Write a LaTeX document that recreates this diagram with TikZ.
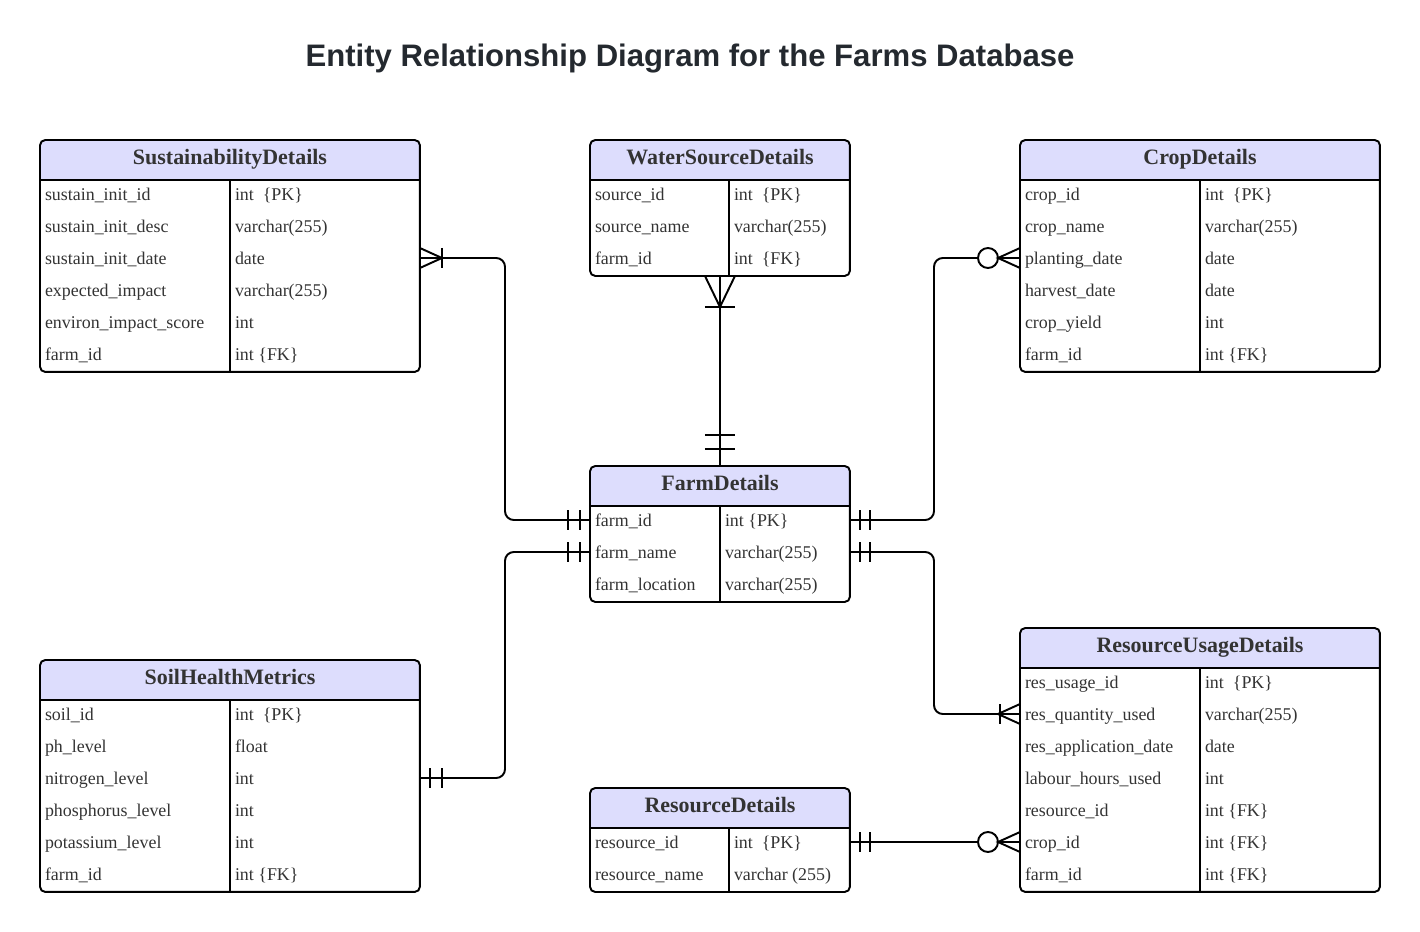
\documentclass[tikz,border=0pt]{standalone}
\usepackage{fontspec}
\setmainfont{Liberation Serif}
\newfontfamily\titlefont{Liberation Sans}
\usepackage{tikz}
\definecolor{hdrfill}{RGB}{221,221,253}
\definecolor{txtgray}{RGB}{51,51,51}
\definecolor{ttlgray}{RGB}{36,41,47}

\begin{document}
\begin{tikzpicture}[x=0.02cm, y=-0.02cm,
    every node/.style={inner sep=0pt, outer sep=0pt},
    tbl/.style={draw, line width=1.1pt, rounded corners=3pt, anchor=north west,
        path picture={\fill[hdrfill, sharp corners] (path picture bounding box.north west) rectangle ([yshift=-0.8cm]path picture bounding box.north east);
            \draw[line width=1.1pt, sharp corners] ([yshift=-0.8cm]path picture bounding box.north west) -- ([yshift=-0.8cm]path picture bounding box.north east);}},
    ttl/.style={font=\fontsize{12.5}{14}\selectfont\bfseries, text=txtgray, text height=8.3pt, text depth=0pt},
    fld/.style={anchor=west, font=\fontsize{10.2}{12}\selectfont, text=txtgray, text height=8.2pt, text depth=1pt},
    rel/.style={line width=1.1pt, rounded corners=5pt},
    mk/.style={line width=1.1pt}]
    \useasboundingbox (0,0) rectangle (1420,932);
    \node[font=\titlefont\bfseries\fontsize{17.7}{20}\selectfont, text=ttlgray] (title) at (690,59) {Entity Relationship Diagram for the Farms Database};

    % SustainabilityDetails
    \node[tbl, minimum width=7.6cm, minimum height=4.64cm] (sust) at (40,140) {};
    \node[ttl] (sust-h) at (230,157) {SustainabilityDetails};
    \draw[mk] (230,180) -- (230,372);
    \node[fld] (su1) at (45,194) {sustain\_init\_id};
    \node[fld] (su1t) at (235,194) {int\ \ \{PK\}};
    \node[fld] (su2) at (45,226) {sustain\_init\_desc};
    \node[fld] (su2t) at (235,226) {varchar(255)};
    \node[fld] (su3) at (45,258) {sustain\_init\_date};
    \node[fld] (su3t) at (235,258) {date};
    \node[fld] (su4) at (45,290) {expected\_impact};
    \node[fld] (su4t) at (235,290) {varchar(255)};
    \node[fld] (su5) at (45,322) {environ\_impact\_score};
    \node[fld] (su5t) at (235,322) {int};
    \node[fld] (su6) at (45,354) {farm\_id};
    \node[fld] (su6t) at (235,354) {int \{FK\}};

    % WaterSourceDetails
    \node[tbl, minimum width=5.2cm, minimum height=2.72cm] (water) at (590,140) {};
    \node[ttl] (water-h) at (720,157) {WaterSourceDetails};
    \draw[mk] (729,180) -- (729,276);
    \node[fld] (wa1) at (595,194) {source\_id};
    \node[fld] (wa1t) at (734,194) {int\ \ \{PK\}};
    \node[fld] (wa2) at (595,226) {source\_name};
    \node[fld] (wa2t) at (734,226) {varchar(255)};
    \node[fld] (wa3) at (595,258) {farm\_id};
    \node[fld] (wa3t) at (734,258) {int\ \ \{FK\}};

    % CropDetails
    \node[tbl, minimum width=7.2cm, minimum height=4.64cm] (crop) at (1020,140) {};
    \node[ttl] (crop-h) at (1200,157) {CropDetails};
    \draw[mk] (1200,180) -- (1200,372);
    \node[fld] (cr1) at (1025,194) {crop\_id};
    \node[fld] (cr1t) at (1205,194) {int\ \ \{PK\}};
    \node[fld] (cr2) at (1025,226) {crop\_name};
    \node[fld] (cr2t) at (1205,226) {varchar(255)};
    \node[fld] (cr3) at (1025,258) {planting\_date};
    \node[fld] (cr3t) at (1205,258) {date};
    \node[fld] (cr4) at (1025,290) {harvest\_date};
    \node[fld] (cr4t) at (1205,290) {date};
    \node[fld] (cr5) at (1025,322) {crop\_yield};
    \node[fld] (cr5t) at (1205,322) {int};
    \node[fld] (cr6) at (1025,354) {farm\_id};
    \node[fld] (cr6t) at (1205,354) {int \{FK\}};

    % FarmDetails
    \node[tbl, minimum width=5.2cm, minimum height=2.72cm] (farm) at (590,466) {};
    \node[ttl] (farm-h) at (720,483) {FarmDetails};
    \draw[mk] (720,506) -- (720,602);
    \node[fld] (fa1) at (595,520) {farm\_id};
    \node[fld] (fa1t) at (725,520) {int \{PK\}};
    \node[fld] (fa2) at (595,552) {farm\_name};
    \node[fld] (fa2t) at (725,552) {varchar(255)};
    \node[fld] (fa3) at (595,584) {farm\_location};
    \node[fld] (fa3t) at (725,584) {varchar(255)};

    % SoilHealthMetrics
    \node[tbl, minimum width=7.6cm, minimum height=4.64cm] (soil) at (40,660) {};
    \node[ttl] (soil-h) at (230,677) {SoilHealthMetrics};
    \draw[mk] (230,700) -- (230,892);
    \node[fld] (so1) at (45,714) {soil\_id};
    \node[fld] (so1t) at (235,714) {int\ \ \{PK\}};
    \node[fld] (so2) at (45,746) {ph\_level};
    \node[fld] (so2t) at (235,746) {float};
    \node[fld] (so3) at (45,778) {nitrogen\_level};
    \node[fld] (so3t) at (235,778) {int};
    \node[fld] (so4) at (45,810) {phosphorus\_level};
    \node[fld] (so4t) at (235,810) {int};
    \node[fld] (so5) at (45,842) {potassium\_level};
    \node[fld] (so5t) at (235,842) {int};
    \node[fld] (so6) at (45,874) {farm\_id};
    \node[fld] (so6t) at (235,874) {int \{FK\}};

    % ResourceUsageDetails
    \node[tbl, minimum width=7.2cm, minimum height=5.28cm] (rud) at (1020,628) {};
    \node[ttl] (rud-h) at (1200,645) {ResourceUsageDetails};
    \draw[mk] (1200,668) -- (1200,892);
    \node[fld] (ru1) at (1025,682) {res\_usage\_id};
    \node[fld] (ru1t) at (1205,682) {int\ \ \{PK\}};
    \node[fld] (ru2) at (1025,714) {res\_quantity\_used};
    \node[fld] (ru2t) at (1205,714) {varchar(255)};
    \node[fld] (ru3) at (1025,746) {res\_application\_date};
    \node[fld] (ru3t) at (1205,746) {date};
    \node[fld] (ru4) at (1025,778) {labour\_hours\_used};
    \node[fld] (ru4t) at (1205,778) {int};
    \node[fld] (ru5) at (1025,810) {resource\_id};
    \node[fld] (ru5t) at (1205,810) {int \{FK\}};
    \node[fld] (ru6) at (1025,842) {crop\_id};
    \node[fld] (ru6t) at (1205,842) {int \{FK\}};
    \node[fld] (ru7) at (1025,874) {farm\_id};
    \node[fld] (ru7t) at (1205,874) {int \{FK\}};

    % ResourceDetails
    \node[tbl, minimum width=5.2cm, minimum height=2.08cm] (rd) at (590,788) {};
    \node[ttl] (rd-h) at (720,805) {ResourceDetails};
    \draw[mk] (729,828) -- (729,892);
    \node[fld] (rd1) at (595,842) {resource\_id};
    \node[fld] (rd1t) at (734,842) {int\ \ \{PK\}};
    \node[fld] (rd2) at (595,874) {resource\_name};
    \node[fld] (rd2t) at (734,874) {varchar (255)};

    % relationships
    \coordinate (lbus) at (505,0);
    \coordinate (rbus) at (934,0);

    % sust -- farm
    \draw[rel] (sust.east |- su3) -| (lbus |- fa1) -- (farm.west |- fa1);
    \draw[mk] (sust.east |- su3) ++(0,-10) -- ++(22,10) -- ++(-22,10);
    \draw[mk] (sust.east |- su3) ++(22,-10) -- ++(0,20);
    \draw[mk] (farm.west |- fa1) ++(-10,-10) -- ++(0,20) ++(-12,-20) -- ++(0,20);

    % water -- farm
    \draw[rel] (water.south) -- (farm.north);
    \draw[mk] (water.south) ++(-15,0) -- ++(15,31) -- ++(15,-31);
    \draw[mk] (water.south) ++(-15,31) -- ++(30,0);
    \draw[mk] (farm.north) ++(-15,-17) -- ++(30,0) ++(-30,-14) -- ++(30,0);

    % crop -- farm
    \draw[rel] (crop.west |- cr3) -| (rbus |- fa1) -- (farm.east |- fa1);
    \draw[mk, fill=white] (crop.west |- cr3) ++(-32,0) circle[radius=0.2cm];
    \draw[mk] (crop.west |- cr3) ++(0,-10) -- ++(-22,10) -- ++(22,10);
    \draw[mk] (farm.east |- fa1) ++(10,-10) -- ++(0,20) ++(10,-20) -- ++(0,20);

    % farm -- rud
    \draw[rel] (farm.east |- fa2) -| (rbus |- ru2) -- (rud.west |- ru2);
    \draw[mk] (farm.east |- fa2) ++(10,-10) -- ++(0,20) ++(10,-20) -- ++(0,20);
    \draw[mk] (rud.west |- ru2) ++(0,-10) -- ++(-22,10) -- ++(22,10);
    \draw[mk] (rud.west |- ru2) ++(-20,-10) -- ++(0,20);

    % farm -- soil
    \draw[rel] (farm.west |- fa2) -| (lbus |- so3) -- (soil.east |- so3);
    \draw[mk] (farm.west |- fa2) ++(-10,-10) -- ++(0,20) ++(-12,-20) -- ++(0,20);
    \draw[mk] (soil.east |- so3) ++(10,-10) -- ++(0,20) ++(12,-20) -- ++(0,20);

    % rd -- rud
    \draw[rel] (rd.east |- rd1) -- (rud.west |- rd1);
    \draw[mk] (rd.east |- rd1) ++(10,-10) -- ++(0,20) ++(10,-20) -- ++(0,20);
    \draw[mk, fill=white] (rud.west |- rd1) ++(-32,0) circle[radius=0.2cm];
    \draw[mk] (rud.west |- rd1) ++(0,-10) -- ++(-22,10) -- ++(22,10);
\end{tikzpicture}
\end{document}
